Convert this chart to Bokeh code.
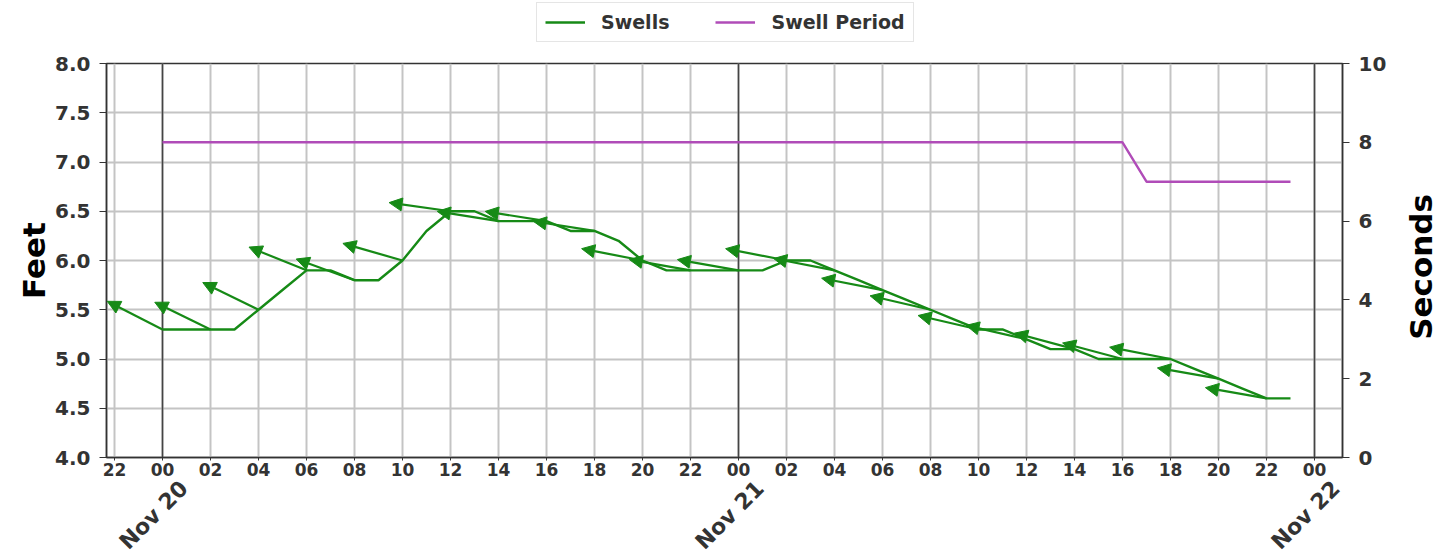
import math
import pandas as pd
from bokeh.plotting import figure
from bokeh.layouts import column, row
from bokeh.models import (Range1d, LinearAxis, DatetimeAxis, FixedTicker, DatetimeTickFormatter,
                          NumeralTickFormatter, Grid, Legend, LegendItem, Arrow, NormalHead,
                          ColumnDataSource, Label)
from bokeh.embed import file_html
from bokeh.resources import INLINE

# ---------------- data ----------------
start_time = "2023-11-20 00:00"
# hourly swell height (ft), Nov 20 00:00 .. Nov 21 23:00
swell_ft = [5.3, 5.3, 5.3, 5.3, 5.5, 5.7, 5.9, 5.9, 5.8, 5.8, 6.0, 6.3,
            6.5, 6.5, 6.4, 6.4, 6.4, 6.3, 6.3, 6.2, 6.0, 5.9, 5.9, 5.9,
            5.9, 5.9, 6.0, 6.0, 5.9, 5.8, 5.7, 5.6, 5.5, 5.4, 5.3, 5.3,
            5.2, 5.1, 5.1, 5.0, 5.0, 5.0, 5.0, 4.9, 4.8, 4.7, 4.6, 4.6]
# hourly swell period (s)
period_s = [8, 8, 8, 8, 8, 8, 8, 8, 8, 8, 8, 8,
            8, 8, 8, 8, 8, 8, 8, 8, 8, 8, 8, 8,
            8, 8, 8, 8, 8, 8, 8, 8, 8, 8, 8, 8,
            8, 8, 8, 8, 8, 7, 7, 7, 7, 7, 7, 7]
# swell direction arrows every 2 hours: on-screen arrow angle (deg, CCW from +x)
arrow_angle_deg = [153, 154, 154, 158, 160, 164, 172, 171, 171, 171, 169, 170,
                   170, 169, 169, 169, 167, 167, 167, 165, 165, 169, 170, 170]
hour_ticks_offsets = list(range(-2, 50, 2))      # minor tick labels (hours from start)
day_ticks_offsets = [0, 24, 48]                   # day boundaries
left_ticks = [4.0, 4.5, 5.0, 5.5, 6.0, 6.5, 7.0, 7.5, 8.0]
right_ticks = [0, 2, 4, 6, 8, 10]
series_names = ["Swells", "Swell Period"]

GREEN = "#168a16"
PURPLE = "#b04cb8"
FONT = "DejaVu Sans"

HOUR_MS = 3600 * 1000
t0 = pd.Timestamp(start_time).value // 10**6
times = [t0 + i * HOUR_MS for i in range(len(swell_ft))]

# layout sizes
LEG_H = 48                    # legend strip on top
FW, FH = 1236, 394            # plot frame
BL, BR, BT, BB = 106, 60, 15, 100
MAIN_H = BT + FH + BB
MAIN_W = BL + FW + BR
SEC_W = 40                    # strip holding the right-hand axis title
x_start = t0 - 2.333 * HOUR_MS
x_end = t0 + 49.167 * HOUR_MS

p = figure(frame_width=FW, frame_height=FH, x_axis_type="datetime", output_backend="svg",
           toolbar_location=None, min_border_left=BL, min_border_right=BR,
           min_border_top=BT, min_border_bottom=BB,
           x_range=Range1d(x_start, x_end), y_range=Range1d(4.0, 8.0))
p.extra_y_ranges = {"sec": Range1d(0, 10)}
p.background_fill_color = "white"
p.border_fill_color = "white"
p.outline_line_color = "#333333"
p.outline_line_width = 1.5

hour_ticker = FixedTicker(ticks=[t0 + h * HOUR_MS for h in hour_ticks_offsets])
day_ticker = FixedTicker(ticks=[t0 + h * HOUR_MS for h in day_ticks_offsets])
# rotated day labels are centred on the day boundary (shift the label anchor)
day_label_ticker = FixedTicker(ticks=[t0 + (h + 0.9) * HOUR_MS for h in day_ticks_offsets])

# bottom axis (hours)
xa = p.xaxis[0]
xa.ticker = hour_ticker
xa.formatter = DatetimeTickFormatter(hours="%H", hourmin="%H", minutes="%H", minsec="%H",
                                     seconds="%H", days="%H", strip_leading_zeros=False)
xa.major_label_text_font = FONT
xa.major_label_text_font_style = "bold"
xa.major_label_text_font_size = "17px"
xa.major_label_text_color = "#333333"
xa.axis_line_color = "#333333"
xa.axis_line_width = 1.5
xa.major_tick_line_color = "#333333"
xa.major_tick_out = 3
xa.major_tick_in = 0
xa.minor_tick_line_color = None
xa.major_label_standoff = 2

# second bottom axis (days)
da = DatetimeAxis(ticker=day_label_ticker,
                  formatter=DatetimeTickFormatter(days="%b %d", months="%b %d", hours="%b %d",
                                                  hourmin="%b %d", strip_leading_zeros=False))
da.major_label_orientation = math.pi / 4
da.major_label_text_font = FONT
da.major_label_text_font_style = "bold"
da.major_label_text_font_size = "22px"
da.major_label_text_color = "#333333"
da.axis_line_color = None
da.major_tick_line_color = None
da.minor_tick_line_color = None
da.major_label_standoff = 0
p.add_layout(da, "below")

# left axis
ya = p.yaxis[0]
ya.ticker = FixedTicker(ticks=left_ticks)
ya.formatter = NumeralTickFormatter(format="0.0")
ya.axis_label = "Feet"
ya.axis_label_text_font = FONT
ya.axis_label_text_font_style = "bold"
ya.axis_label_text_font_size = "31px"
ya.axis_label_text_color = "black"
ya.axis_label_standoff = 0
ya.major_label_text_font = FONT
ya.major_label_text_font_style = "bold"
ya.major_label_text_font_size = "20px"
ya.major_label_text_color = "#333333"
ya.major_label_standoff = 9
ya.axis_line_color = "#333333"
ya.axis_line_width = 1.5
ya.major_tick_line_color = "#333333"
ya.major_tick_out = 7
ya.major_tick_in = 0
ya.minor_tick_line_color = None

# right axis (seconds)
ra = LinearAxis(y_range_name="sec", ticker=FixedTicker(ticks=right_ticks))
ra.major_label_text_font = FONT
ra.major_label_text_font_style = "bold"
ra.major_label_text_font_size = "20px"
ra.major_label_text_color = "#333333"
ra.axis_line_color = "#333333"
ra.axis_line_width = 1.5
ra.major_tick_line_color = "#333333"
ra.major_tick_out = 7
ra.major_tick_in = 0
ra.major_label_standoff = 9
ra.minor_tick_line_color = None
p.add_layout(ra, "right")

# grids
p.xgrid[0].ticker = hour_ticker
p.xgrid.grid_line_color = "#c4c4c4"
p.xgrid.grid_line_width = 2
p.ygrid.grid_line_color = "#c4c4c4"
p.ygrid.grid_line_width = 2
p.add_layout(Grid(dimension=0, ticker=day_ticker, grid_line_color="#444444", grid_line_width=1.6))

# data
src = ColumnDataSource(dict(t=times, swell=swell_ft, period=period_s))
p.line("t", "swell", source=src, color=GREEN, line_width=2.4)
p.line("t", "period", source=src, color=PURPLE, line_width=2.4, y_range_name="sec")

# direction arrows (fixed on-screen length)
L = 62.0
px_per_ms = FW / (x_end - x_start)
px_per_ft = FH / 4.0
ax0 = times[::2]
ay0 = swell_ft[::2]
ax1 = [x + L * math.cos(math.radians(a)) / px_per_ms for x, a in zip(ax0, arrow_angle_deg)]
ay1 = [y + L * math.sin(math.radians(a)) / px_per_ft for y, a in zip(ay0, arrow_angle_deg)]
asrc = ColumnDataSource(dict(x0=ax0, y0=ay0, x1=ax1, y1=ay1))
p.add_layout(Arrow(source=asrc, x_start="x0", y_start="y0", x_end="x1", y_end="y1",
                   line_color=GREEN, line_width=2.2,
                   end=NormalHead(size=13, fill_color=GREEN, line_color=GREEN, line_width=1)))

# ---------- legend strip (its own small figure above the chart) ----------
TOTAL_W = MAIN_W + SEC_W
lf = figure(width=TOTAL_W, height=LEG_H, output_backend="svg", toolbar_location=None,
            min_border=0, x_axis_location=None, y_axis_location=None,
            x_range=Range1d(0, 1), y_range=Range1d(0, 1))
lf.grid.visible = False
lf.outline_line_color = None
lf.background_fill_color = "white"
lf.border_fill_color = "white"
# same series drawn off-view here, only to provide the legend glyphs
lsrc = ColumnDataSource(dict(t=times, swell=swell_ft, period=period_s))
g1 = lf.line("t", "swell", source=lsrc, color=GREEN, line_width=2.4)
g2 = lf.line("t", "period", source=lsrc, color=PURPLE, line_width=2.4)
legend = Legend(items=[LegendItem(label=series_names[0], renderers=[g1]),
                       LegendItem(label=series_names[1], renderers=[g2])],
                orientation="horizontal", location=(BL + FW / 2 - 188, 6))
legend.label_text_font = FONT
legend.label_text_font_style = "bold"
legend.label_text_font_size = "19px"
legend.label_text_color = "#333333"
legend.glyph_width = 40
legend.spacing = 46
legend.padding = 8
legend.label_standoff = 16
legend.border_line_color = "#cccccc"
legend.border_line_width = 1.5
legend.margin = 0
lf.add_layout(legend, "center")

# ---------- right-hand axis title strip ----------
sf = figure(width=SEC_W, height=MAIN_H, output_backend="svg", toolbar_location=None,
            min_border=0, x_axis_location=None, y_axis_location=None,
            x_range=Range1d(0, SEC_W), y_range=Range1d(0, MAIN_H))
sf.grid.visible = False
sf.outline_line_color = None
sf.background_fill_color = "white"
sf.border_fill_color = "white"
sf.add_layout(Label(x=SEC_W / 2 - 2, y=BB + FH / 2 - 57, text="Seconds", angle=math.pi / 2,
                    text_align="center", text_baseline="middle", text_font=FONT,
                    text_font_style="bold", text_font_size="31px", text_color="black"))

layout = column(lf, row(p, sf, spacing=0), spacing=0)
open("out.html", "w").write(file_html(layout, INLINE))
